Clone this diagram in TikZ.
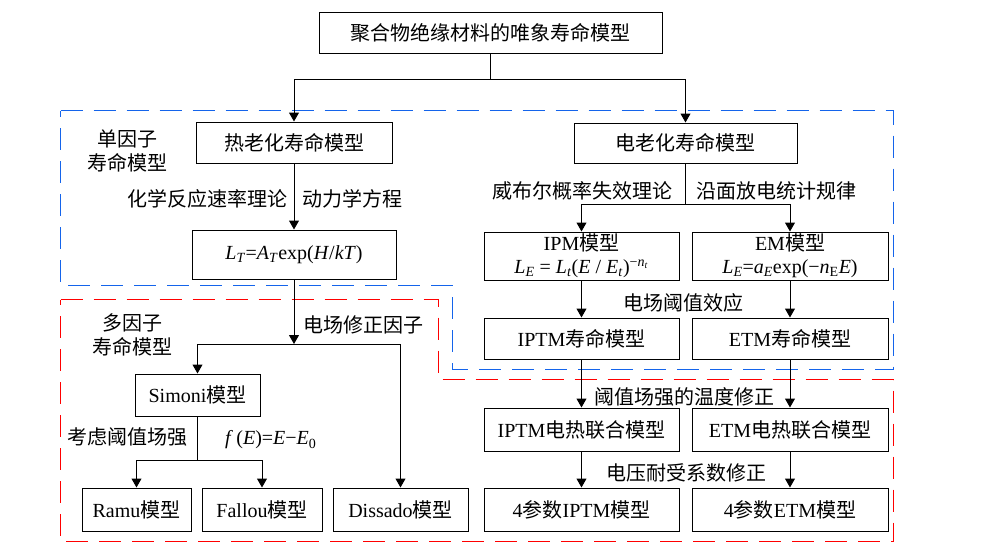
\documentclass[tikz,border=0pt]{standalone}
\usepackage{fontspec}
\setmainfont{Liberation Serif}
\newfontfamily\cjk{Noto Sans CJK SC}
\usetikzlibrary{arrows.meta}
\newcommand\zh[1]{{\cjk #1}}
\newcommand\iv[1]{\textit{#1}}
\definecolor{bblue}{RGB}{20,100,235}
\definecolor{rred}{RGB}{255,0,0}
\tikzset{
  box/.style={draw, line width=1pt, inner sep=0pt, align=center, font=\fontsize{20}{23}\selectfont},
  lbl/.style={inner sep=0pt, align=center, font=\fontsize{20}{24}\selectfont},
  ln/.style={line width=1pt},
  arr/.style={line width=1pt, -{Triangle[length=9pt,width=10pt]}},
  bdash/.style={draw=bblue, line width=1.2pt, dash pattern=on 22pt off 11pt},
  rdash/.style={draw=rred, line width=1.2pt, dash pattern=on 22pt off 11pt}
}
\begin{document}
\begin{tikzpicture}[x=1pt,y=-1pt]
\useasboundingbox (0,0) rectangle (983,554);
\fill[white] (0,0) rectangle (983,554);

% dashed groups
\draw[bdash] (60.5,110.5) -- (893.5,110.5) -- (893.5,369.5) -- (452.5,369.5) -- (452.5,285.5) -- (60.5,285.5) -- cycle;
\draw[rdash] (60.5,299.5) -- (438.5,299.5) -- (438.5,379.5) -- (893.5,379.5) -- (893.5,541.5) -- (60.5,541.5) -- cycle;

% boxes
\node[box, minimum width=343pt, minimum height=41pt] (top) at (490.5,32.5) {\zh{聚合物绝缘材料的唯象寿命模型}};
\node[box, minimum width=196pt, minimum height=41pt] (thermal) at (294,142.5) {\zh{热老化寿命模型}};
\node[box, minimum width=223pt, minimum height=40pt] (elec) at (685.5,143) {\zh{电老化寿命模型}};
\node[box, minimum width=204pt, minimum height=49pt] (LT) at (294,254.5) {\iv{L}\textsubscript{\iv{T}}=\iv{A}\textsubscript{\iv{T}}exp(\iv{H}/\iv{kT})};
\node[box, minimum width=195pt, minimum height=48pt] (IPM) at (581.5,256) {IPM\zh{模型}\\ \iv{L}\textsubscript{\iv{E}} = \iv{L}\textsubscript{\iv{t}}(\iv{E} / \iv{E}\textsubscript{\iv{t}})\textsuperscript{−\iv{n}\textsubscript{\iv{t}}}};
\node[box, minimum width=196pt, minimum height=48pt] (EM) at (790,256) {EM\zh{模型}\\ \iv{L}\textsubscript{\iv{E}}=\iv{a}\textsubscript{\iv{E}}exp(−\iv{n}\textsubscript{E}\iv{E})};
\node[box, minimum width=195pt, minimum height=41pt] (IPTM) at (581.5,338.5) {IPTM\zh{寿命模型}};
\node[box, minimum width=196pt, minimum height=41pt] (ETM) at (790,338.5) {ETM\zh{寿命模型}};
\node[box, minimum width=195pt, minimum height=43pt] (IPTMeh) at (581.5,429.5) {IPTM\zh{电热联合模型}};
\node[box, minimum width=196pt, minimum height=43pt] (ETMeh) at (790,429.5) {ETM\zh{电热联合模型}};
\node[box, minimum width=195pt, minimum height=43pt] (IPTM4) at (581.5,509.5) {4\zh{参数}IPTM\zh{模型}};
\node[box, minimum width=196pt, minimum height=43pt] (ETM4) at (790,509.5) {4\zh{参数}ETM\zh{模型}};
\node[box, minimum width=125pt, minimum height=42pt] (Simoni) at (197.5,395) {Simoni\zh{模型}};
\node[box, minimum width=109pt, minimum height=43pt] (Ramu) at (136.5,509.5) {Ramu\zh{模型}};
\node[box, minimum width=120pt, minimum height=43pt] (Fallou) at (262,509.5) {Fallou\zh{模型}};
\node[box, minimum width=135pt, minimum height=43pt] (Dissado) at (400.5,509.5) {Dissado\zh{模型}};

% connectors
\draw[ln] (top.south) -- ++(0,26) coordinate (j0);
\draw[arr] (j0) -| (thermal.north);
\draw[arr] (j0) -| (elec.north);
\draw[arr] (thermal.south) -- (LT.north);
\draw[ln] (elec.south) -- ++(0,41) coordinate (j1);
\draw[arr] (j1) -| (IPM.north);
\draw[arr] (j1) -| (EM.north);
\draw[arr] (IPM.south) -- (IPTM.north);
\draw[arr] (EM.south) -- (ETM.north);
\draw[arr] (IPTM.south) -- (IPTMeh.north);
\draw[arr] (ETM.south) -- (ETMeh.north);
\draw[arr] (IPTMeh.south) -- (IPTM4.north);
\draw[arr] (ETMeh.south) -- (ETM4.north);
\coordinate (j2) at (294,344);
\draw[arr] (LT.south) -- (j2);
\draw[arr] (j2) -| (Simoni.north);
\draw[arr] (j2) -| (Dissado.north);
\draw[ln] (Simoni.south) -- ++(0,44) coordinate (j3);
\draw[arr] (j3) -| (Ramu.north);
\draw[arr] (j3) -| (Fallou.north);

% labels
\node[lbl] (single) at (127,151) {\zh{单因子}\\\zh{寿命模型}};
\node[lbl, anchor=east] (chem) at (288,199) {\zh{化学反应速率理论}};
\node[lbl, anchor=west] (dyn) at (302,199) {\zh{动力学方程}};
\node[lbl, anchor=east] (weib) at (673,191) {\zh{威布尔概率失效理论}};
\node[lbl, anchor=west] (surf) at (696,191) {\zh{沿面放电统计规律}};
\node[lbl, anchor=west] (thr) at (623,303) {\zh{电场阈值效应}};
\node[lbl] (multi) at (132,335) {\zh{多因子}\\\zh{寿命模型}};
\node[lbl, anchor=west] (fcorr) at (303,325) {\zh{电场修正因子}};
\node[lbl] (consid) at (127,437) {\zh{考虑阈值场强}};
\node[lbl, anchor=west] (fE) at (225,440) {\iv{f}\,(\iv{E})=\iv{E}−\iv{E}\textsubscript{0}};
\node[lbl, anchor=west] (tcorr) at (594,397) {\zh{阈值场强的温度修正}};
\node[lbl, anchor=west] (vcorr) at (606,473) {\zh{电压耐受系数修正}};
\end{tikzpicture}
\end{document}
